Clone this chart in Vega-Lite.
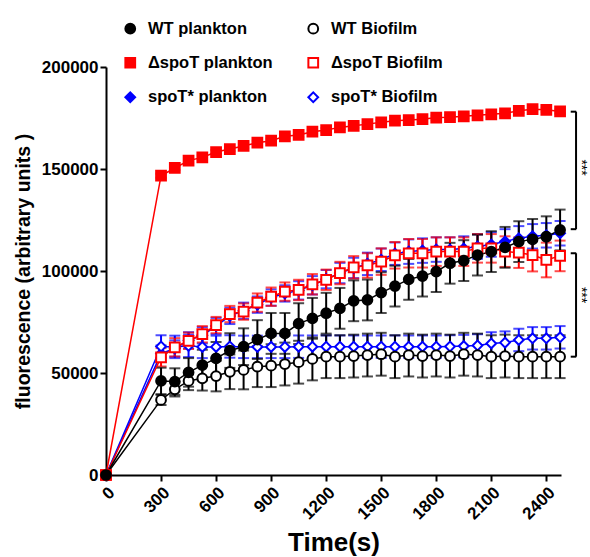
{
"$schema": "https://vega.github.io/schema/vega-lite/v6.json",
"width": 455, "height": 408,
"autosize": {"type": "none"},
"padding": {"left": 106, "top": 67, "right": 29, "bottom": 82},
"background": "white",
"config": {"view": {"stroke": null}, "font": "Liberation Sans",
 "legend": {"orient": "none", "legendX": 16, "legendY": -47, "columns": 2, "padding": 0, "labelFont": "Liberation Sans", "labelFontSize": 16.5, "labelFontWeight": "bold", "labelColor": "black", "labelOffset": 9.5, "rowPadding": 15.5, "columnPadding": 31, "symbolStrokeWidth": 2, "symbolSize": 95, "labelLimit": 300}
},
"datasets": {
"series": [
{"s":"spoT* plankton","t":0,"v":0,"e":0},{"s":"spoT* plankton","t":300,"v":59500,"e":4000},{"s":"spoT* plankton","t":375,"v":62000,"e":4000},{"s":"spoT* plankton","t":450,"v":66000,"e":4000},{"s":"spoT* plankton","t":525,"v":68500,"e":4000},{"s":"spoT* plankton","t":600,"v":73000,"e":4000},{"s":"spoT* plankton","t":675,"v":78000,"e":4000},{"s":"spoT* plankton","t":750,"v":80500,"e":4000},{"s":"spoT* plankton","t":825,"v":83500,"e":4000},{"s":"spoT* plankton","t":900,"v":87000,"e":4000},{"s":"spoT* plankton","t":975,"v":89000,"e":4000},{"s":"spoT* plankton","t":1050,"v":90500,"e":4500},{"s":"spoT* plankton","t":1125,"v":93000,"e":4500},{"s":"spoT* plankton","t":1200,"v":96000,"e":4500},{"s":"spoT* plankton","t":1275,"v":99000,"e":5000},{"s":"spoT* plankton","t":1350,"v":101500,"e":5000},{"s":"spoT* plankton","t":1425,"v":103500,"e":5500},{"s":"spoT* plankton","t":1500,"v":105500,"e":5500},{"s":"spoT* plankton","t":1575,"v":108500,"e":5500},{"s":"spoT* plankton","t":1650,"v":109500,"e":6000},{"s":"spoT* plankton","t":1725,"v":110000,"e":6000},{"s":"spoT* plankton","t":1800,"v":110500,"e":6000},{"s":"spoT* plankton","t":1875,"v":110500,"e":6000},{"s":"spoT* plankton","t":1950,"v":111000,"e":6000},{"s":"spoT* plankton","t":2025,"v":112000,"e":6000},{"s":"spoT* plankton","t":2100,"v":113000,"e":6000},{"s":"spoT* plankton","t":2175,"v":114500,"e":6000},{"s":"spoT* plankton","t":2250,"v":116000,"e":6000},{"s":"spoT* plankton","t":2325,"v":117000,"e":6000},{"s":"spoT* plankton","t":2400,"v":117500,"e":6000},{"s":"spoT* plankton","t":2475,"v":118500,"e":6000},
{"s":"ΔspoT plankton","t":0,"v":0,"e":0},{"s":"ΔspoT plankton","t":300,"v":146700,"e":1000},{"s":"ΔspoT plankton","t":375,"v":150500,"e":1000},{"s":"ΔspoT plankton","t":450,"v":154100,"e":1000},{"s":"ΔspoT plankton","t":525,"v":155700,"e":1000},{"s":"ΔspoT plankton","t":600,"v":158300,"e":1000},{"s":"ΔspoT plankton","t":675,"v":159800,"e":1000},{"s":"ΔspoT plankton","t":750,"v":161300,"e":1000},{"s":"ΔspoT plankton","t":825,"v":162900,"e":1000},{"s":"ΔspoT plankton","t":900,"v":163900,"e":1000},{"s":"ΔspoT plankton","t":975,"v":166000,"e":1000},{"s":"ΔspoT plankton","t":1050,"v":166700,"e":1000},{"s":"ΔspoT plankton","t":1125,"v":168300,"e":1000},{"s":"ΔspoT plankton","t":1200,"v":169100,"e":1000},{"s":"ΔspoT plankton","t":1275,"v":170400,"e":1000},{"s":"ΔspoT plankton","t":1350,"v":171200,"e":1000},{"s":"ΔspoT plankton","t":1425,"v":172000,"e":1000},{"s":"ΔspoT plankton","t":1500,"v":172900,"e":1000},{"s":"ΔspoT plankton","t":1575,"v":173700,"e":1000},{"s":"ΔspoT plankton","t":1650,"v":174000,"e":1000},{"s":"ΔspoT plankton","t":1725,"v":174400,"e":1000},{"s":"ΔspoT plankton","t":1800,"v":175200,"e":1000},{"s":"ΔspoT plankton","t":1875,"v":175400,"e":1000},{"s":"ΔspoT plankton","t":1950,"v":175800,"e":1000},{"s":"ΔspoT plankton","t":2025,"v":176300,"e":1000},{"s":"ΔspoT plankton","t":2100,"v":176800,"e":1000},{"s":"ΔspoT plankton","t":2175,"v":177300,"e":1000},{"s":"ΔspoT plankton","t":2250,"v":178500,"e":1000},{"s":"ΔspoT plankton","t":2325,"v":179300,"e":1000},{"s":"ΔspoT plankton","t":2400,"v":179000,"e":1000},{"s":"ΔspoT plankton","t":2475,"v":178200,"e":1000},
{"s":"spoT* Biofilm","t":0,"v":0,"e":0},{"s":"spoT* Biofilm","t":300,"v":63000,"e":5500},{"s":"spoT* Biofilm","t":375,"v":62800,"e":5500},{"s":"spoT* Biofilm","t":450,"v":63300,"e":5500},{"s":"spoT* Biofilm","t":525,"v":62800,"e":5500},{"s":"spoT* Biofilm","t":600,"v":62800,"e":5500},{"s":"spoT* Biofilm","t":675,"v":63000,"e":5500},{"s":"spoT* Biofilm","t":750,"v":62800,"e":5500},{"s":"spoT* Biofilm","t":825,"v":62800,"e":5500},{"s":"spoT* Biofilm","t":900,"v":62800,"e":5500},{"s":"spoT* Biofilm","t":975,"v":62800,"e":5500},{"s":"spoT* Biofilm","t":1050,"v":62900,"e":5500},{"s":"spoT* Biofilm","t":1125,"v":62900,"e":5500},{"s":"spoT* Biofilm","t":1200,"v":62900,"e":5500},{"s":"spoT* Biofilm","t":1275,"v":62900,"e":5500},{"s":"spoT* Biofilm","t":1350,"v":62900,"e":5500},{"s":"spoT* Biofilm","t":1425,"v":62900,"e":5500},{"s":"spoT* Biofilm","t":1500,"v":62900,"e":5500},{"s":"spoT* Biofilm","t":1575,"v":62900,"e":5500},{"s":"spoT* Biofilm","t":1650,"v":62900,"e":5500},{"s":"spoT* Biofilm","t":1725,"v":62900,"e":5500},{"s":"spoT* Biofilm","t":1800,"v":62900,"e":5500},{"s":"spoT* Biofilm","t":1875,"v":63000,"e":5500},{"s":"spoT* Biofilm","t":1950,"v":63200,"e":5500},{"s":"spoT* Biofilm","t":2025,"v":63500,"e":5500},{"s":"spoT* Biofilm","t":2100,"v":64500,"e":5500},{"s":"spoT* Biofilm","t":2175,"v":64900,"e":5500},{"s":"spoT* Biofilm","t":2250,"v":66200,"e":5500},{"s":"spoT* Biofilm","t":2325,"v":67000,"e":5500},{"s":"spoT* Biofilm","t":2400,"v":67000,"e":5500},{"s":"spoT* Biofilm","t":2475,"v":67500,"e":5500},
{"s":"WT Biofilm","t":0,"v":0,"e":0},{"s":"WT Biofilm","t":300,"v":36800,"e":2500},{"s":"WT Biofilm","t":375,"v":42000,"e":3500},{"s":"WT Biofilm","t":450,"v":46100,"e":4500},{"s":"WT Biofilm","t":525,"v":47400,"e":6000},{"s":"WT Biofilm","t":600,"v":48500,"e":7500},{"s":"WT Biofilm","t":675,"v":50600,"e":8500},{"s":"WT Biofilm","t":750,"v":51500,"e":9500},{"s":"WT Biofilm","t":825,"v":53100,"e":10000},{"s":"WT Biofilm","t":900,"v":53600,"e":10500},{"s":"WT Biofilm","t":975,"v":54400,"e":10500},{"s":"WT Biofilm","t":1050,"v":55300,"e":10500},{"s":"WT Biofilm","t":1125,"v":56900,"e":10500},{"s":"WT Biofilm","t":1200,"v":58000,"e":10500},{"s":"WT Biofilm","t":1275,"v":58000,"e":10500},{"s":"WT Biofilm","t":1350,"v":58300,"e":10500},{"s":"WT Biofilm","t":1425,"v":58800,"e":10500},{"s":"WT Biofilm","t":1500,"v":59200,"e":10500},{"s":"WT Biofilm","t":1575,"v":58000,"e":10500},{"s":"WT Biofilm","t":1650,"v":58800,"e":10500},{"s":"WT Biofilm","t":1725,"v":58300,"e":10500},{"s":"WT Biofilm","t":1800,"v":58800,"e":10500},{"s":"WT Biofilm","t":1875,"v":58300,"e":10500},{"s":"WT Biofilm","t":1950,"v":59200,"e":10500},{"s":"WT Biofilm","t":2025,"v":58800,"e":10500},{"s":"WT Biofilm","t":2100,"v":58000,"e":10500},{"s":"WT Biofilm","t":2175,"v":58300,"e":10500},{"s":"WT Biofilm","t":2250,"v":58000,"e":10500},{"s":"WT Biofilm","t":2325,"v":58000,"e":10500},{"s":"WT Biofilm","t":2400,"v":58000,"e":10500},{"s":"WT Biofilm","t":2475,"v":58000,"e":10500},
{"s":"ΔspoT Biofilm","t":0,"v":0,"e":0},{"s":"ΔspoT Biofilm","t":300,"v":57700,"e":4500},{"s":"ΔspoT Biofilm","t":375,"v":62600,"e":4500},{"s":"ΔspoT Biofilm","t":450,"v":65800,"e":4000},{"s":"ΔspoT Biofilm","t":525,"v":69000,"e":4000},{"s":"ΔspoT Biofilm","t":600,"v":73500,"e":4000},{"s":"ΔspoT Biofilm","t":675,"v":78900,"e":4000},{"s":"ΔspoT Biofilm","t":750,"v":80100,"e":4000},{"s":"ΔspoT Biofilm","t":825,"v":84500,"e":4500},{"s":"ΔspoT Biofilm","t":900,"v":87400,"e":4500},{"s":"ΔspoT Biofilm","t":975,"v":89900,"e":4500},{"s":"ΔspoT Biofilm","t":1050,"v":90700,"e":5000},{"s":"ΔspoT Biofilm","t":1125,"v":93500,"e":5000},{"s":"ΔspoT Biofilm","t":1200,"v":95700,"e":5000},{"s":"ΔspoT Biofilm","t":1275,"v":99000,"e":5500},{"s":"ΔspoT Biofilm","t":1350,"v":101800,"e":5500},{"s":"ΔspoT Biofilm","t":1425,"v":102700,"e":6000},{"s":"ΔspoT Biofilm","t":1500,"v":104600,"e":6500},{"s":"ΔspoT Biofilm","t":1575,"v":107700,"e":6500},{"s":"ΔspoT Biofilm","t":1650,"v":108700,"e":7000},{"s":"ΔspoT Biofilm","t":1725,"v":108700,"e":7000},{"s":"ΔspoT Biofilm","t":1800,"v":109500,"e":7000},{"s":"ΔspoT Biofilm","t":1875,"v":109500,"e":7000},{"s":"ΔspoT Biofilm","t":1950,"v":109500,"e":7000},{"s":"ΔspoT Biofilm","t":2025,"v":111100,"e":7000},{"s":"ΔspoT Biofilm","t":2100,"v":111100,"e":7000},{"s":"ΔspoT Biofilm","t":2175,"v":109500,"e":7500},{"s":"ΔspoT Biofilm","t":2250,"v":109000,"e":7500},{"s":"ΔspoT Biofilm","t":2325,"v":107800,"e":8000},{"s":"ΔspoT Biofilm","t":2400,"v":105400,"e":8500},{"s":"ΔspoT Biofilm","t":2475,"v":107400,"e":7500},
{"s":"WT plankton","t":0,"v":0,"e":0},{"s":"WT plankton","t":300,"v":46100,"e":6500},{"s":"WT plankton","t":375,"v":45800,"e":6500},{"s":"WT plankton","t":450,"v":50300,"e":7000},{"s":"WT plankton","t":525,"v":53900,"e":7500},{"s":"WT plankton","t":600,"v":57200,"e":8000},{"s":"WT plankton","t":675,"v":61000,"e":8500},{"s":"WT plankton","t":750,"v":62900,"e":9000},{"s":"WT plankton","t":825,"v":66400,"e":9500},{"s":"WT plankton","t":900,"v":69400,"e":10000},{"s":"WT plankton","t":975,"v":69400,"e":10000},{"s":"WT plankton","t":1050,"v":74200,"e":10000},{"s":"WT plankton","t":1125,"v":76800,"e":10000},{"s":"WT plankton","t":1200,"v":79300,"e":10000},{"s":"WT plankton","t":1275,"v":81700,"e":10000},{"s":"WT plankton","t":1350,"v":85400,"e":10000},{"s":"WT plankton","t":1425,"v":85800,"e":10000},{"s":"WT plankton","t":1500,"v":89400,"e":10000},{"s":"WT plankton","t":1575,"v":92600,"e":10000},{"s":"WT plankton","t":1650,"v":95900,"e":10000},{"s":"WT plankton","t":1725,"v":97500,"e":10000},{"s":"WT plankton","t":1800,"v":99700,"e":10000},{"s":"WT plankton","t":1875,"v":103800,"e":10000},{"s":"WT plankton","t":1950,"v":105100,"e":10000},{"s":"WT plankton","t":2025,"v":107800,"e":10000},{"s":"WT plankton","t":2100,"v":109500,"e":10000},{"s":"WT plankton","t":2175,"v":111600,"e":10000},{"s":"WT plankton","t":2250,"v":114400,"e":10000},{"s":"WT plankton","t":2325,"v":115500,"e":10000},{"s":"WT plankton","t":2400,"v":116800,"e":10000},{"s":"WT plankton","t":2475,"v":120100,"e":10000}
],
"brackets": [
{"top": 178100, "bottom": 120500, "mid": 150700, "label": "***"},
{"top": 108700, "bottom": 58000, "mid": 88200, "label": "***"}
]
},
"layer": [
{"data": {"name": "series"},
 "transform": [{"filter": "datum.e > 0"}],
 "mark": {"type": "errorbar", "ticks": true, "size": 11, "thickness": 2},
 "encoding": {
  "x": {"field": "t", "type": "quantitative", "title": "Time(s)", "scale": {"domain": [0, 2480], "nice": false, "zero": false},
   "axis": {"values": [0,300,600,900,1200,1500,1800,2100,2400], "format": "d", "labelAngle": -45, "labelFlush": false, "labelFont": "Liberation Sans", "labelFontSize": 17, "labelFontWeight": "bold", "labelColor": "black", "labelPadding": 3, "domainColor": "black", "domainWidth": 2, "tickColor": "black", "tickWidth": 2, "tickSize": 6, "grid": false, "titleFont": "Liberation Sans", "titleFontSize": 26, "titleFontWeight": "bold", "titleColor": "black", "titleY": 75, "titleBaseline": "alphabetic"}},
  "y": {"field": "v", "type": "quantitative", "title": "fluorescence (arbitrary units )", "scale": {"domain": [0, 200000], "nice": false},
   "axis": {"values": [0,50000,100000,150000,200000], "format": "d", "labelFlush": false, "labelFont": "Liberation Sans", "labelFontSize": 17, "labelFontWeight": "bold", "labelColor": "black", "labelPadding": 2, "domainColor": "black", "domainWidth": 2, "tickColor": "black", "tickWidth": 2, "tickSize": 6, "grid": false, "titleFont": "Liberation Sans", "titleFontSize": 19.5, "titleFontWeight": "bold", "titleColor": "black", "titleX": -83, "titleY": 204, "titleAngle": -90, "titleAlign": "center", "titleBaseline": "middle"}},
  "yError": {"field": "e"},
  "color": {"field": "s", "type": "nominal", "legend": null,
   "scale": {"domain": ["spoT* plankton","ΔspoT plankton","spoT* Biofilm","WT Biofilm","ΔspoT Biofilm","WT plankton"], "range": ["#0000ff","#ff0000","#0000ff","#000000","#ff0000","#000000"]}}
 }},
{"data": {"name": "series"},
 "mark": {"type": "line", "strokeWidth": 1.5},
 "encoding": {
  "x": {"field": "t", "type": "quantitative", "title": "Time(s)"},
  "y": {"field": "v", "type": "quantitative", "title": "fluorescence (arbitrary units )"},
  "color": {"field": "s", "type": "nominal", "legend": null}
 }},
{"data": {"name": "series"},
 "mark": {"type": "point", "size": 95, "strokeWidth": 2, "opacity": 1},
 "encoding": {
  "x": {"field": "t", "type": "quantitative", "title": "Time(s)"},
  "y": {"field": "v", "type": "quantitative", "title": "fluorescence (arbitrary units )"},
  "stroke": {"field": "s", "type": "nominal", "title": null,
   "scale": {"domain": ["WT plankton","ΔspoT plankton","spoT* plankton","WT Biofilm","ΔspoT Biofilm","spoT* Biofilm"], "range": ["#000000","#ff0000","#0000ff","#000000","#ff0000","#0000ff"]}},
  "fill": {"field": "s", "type": "nominal", "title": null,
   "scale": {"domain": ["WT plankton","ΔspoT plankton","spoT* plankton","WT Biofilm","ΔspoT Biofilm","spoT* Biofilm"], "range": ["#000000","#ff0000","#0000ff","#ffffff","#ffffff","#ffffff"]}},
  "shape": {"field": "s", "type": "nominal", "title": null,
   "scale": {"domain": ["WT plankton","ΔspoT plankton","spoT* plankton","WT Biofilm","ΔspoT Biofilm","spoT* Biofilm"], "range": ["circle","square","diamond","circle","square","diamond"]}}
 }},
{"data": {"name": "brackets"},
 "mark": {"type": "rule", "strokeWidth": 2, "color": "black"},
 "encoding": {
  "x": {"datum": 2562, "type": "quantitative", "title": "Time(s)"},
  "y": {"field": "top", "type": "quantitative", "title": "fluorescence (arbitrary units )"},
  "y2": {"field": "bottom"}
 }},
{"data": {"name": "brackets"},
 "mark": {"type": "rule", "strokeWidth": 2, "color": "black"},
 "encoding": {
  "x": {"datum": 2533, "type": "quantitative", "title": "Time(s)"},
  "x2": {"datum": 2563},
  "y": {"field": "top", "type": "quantitative", "title": "fluorescence (arbitrary units )"}
 }},
{"data": {"name": "brackets"},
 "mark": {"type": "rule", "strokeWidth": 2, "color": "black"},
 "encoding": {
  "x": {"datum": 2533, "type": "quantitative", "title": "Time(s)"},
  "x2": {"datum": 2563},
  "y": {"field": "bottom", "type": "quantitative", "title": "fluorescence (arbitrary units )"}
 }},
{"data": {"name": "brackets"},
 "mark": {"type": "text", "angle": 90, "align": "center", "baseline": "middle", "fontSize": 14, "font": "Liberation Sans", "fill": "black"},
 "encoding": {
  "x": {"datum": 2588, "type": "quantitative", "title": "Time(s)"},
  "y": {"field": "mid", "type": "quantitative", "title": "fluorescence (arbitrary units )"},
  "text": {"field": "label"}
 }}
]
}
